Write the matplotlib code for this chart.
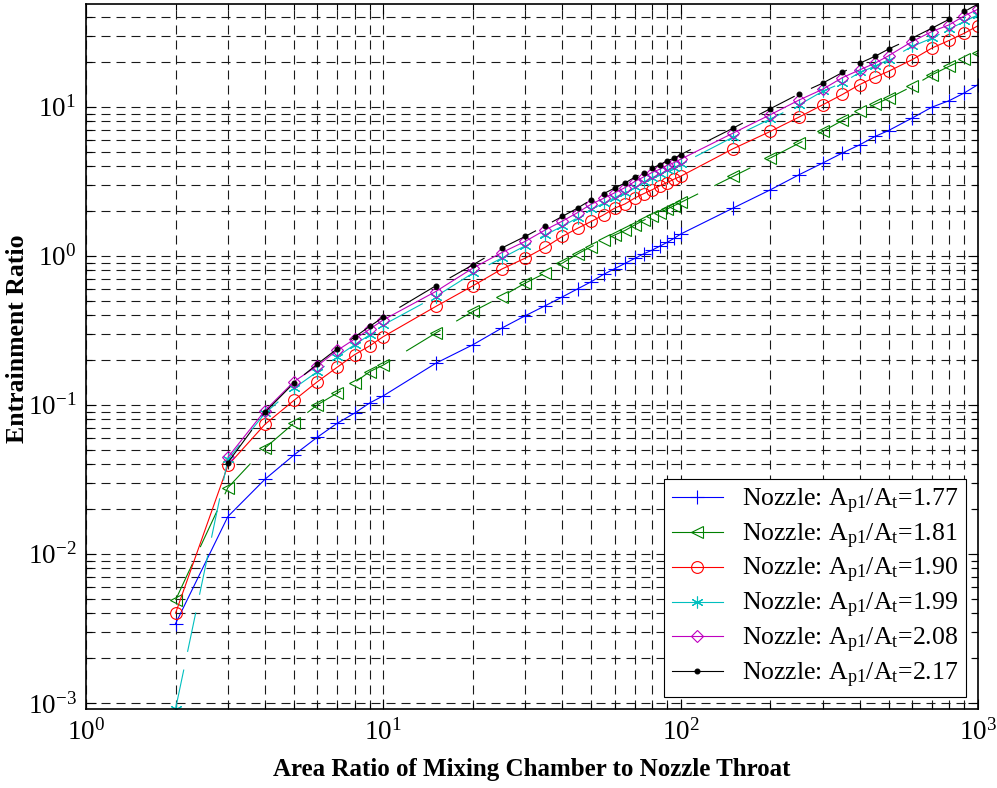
import numpy as np
import matplotlib
matplotlib.use("Agg")
import matplotlib.pyplot as plt
from matplotlib.ticker import LogLocator, NullFormatter

plt.rcParams["font.family"] = ["Liberation Serif", "DejaVu Serif"]
plt.rcParams["mathtext.fontset"] = "custom"
plt.rcParams["mathtext.rm"] = "Liberation Serif"
plt.rcParams["mathtext.it"] = "Liberation Serif:italic"
plt.rcParams["mathtext.bf"] = "Liberation Serif:bold"
plt.rcParams["lines.scale_dashes"] = False

# area ratio of mixing chamber to nozzle throat
area_ratio = [2, 3, 4, 5, 6, 7, 8, 9, 10,
              15, 20, 25, 30, 35, 40, 45, 50, 55, 60, 65, 70, 75, 80, 85, 90, 95, 100,
              150, 200, 250, 300, 350, 400, 450, 500, 600, 700, 800, 900, 1000]

# entrainment ratio for each nozzle area ratio Ap1/At
er_177 = [0.0034, 0.0178, 0.0317, 0.046, 0.0607, 0.0753, 0.088, 0.103, 0.115,
          0.19, 0.253, 0.327, 0.396, 0.462, 0.53, 0.60, 0.67, 0.75, 0.82, 0.89, 0.96, 1.03, 1.09, 1.16, 1.23, 1.31, 1.40,
          2.09, 2.77, 3.50, 4.19, 4.9, 5.56, 6.32, 6.93, 8.40, 9.95, 11.0, 12.4, 14.1]
er_181 = [0.0049, 0.0278, 0.0513, 0.0753, 0.100, 0.120, 0.141, 0.167, 0.185,
          0.303, 0.423, 0.533, 0.656, 0.765, 0.893, 1.03, 1.15, 1.27, 1.38, 1.48, 1.61, 1.73, 1.84, 1.94, 2.06, 2.17, 2.28,
          3.41, 4.53, 5.70, 6.83, 8.1, 9.3, 10.4, 11.4, 13.7, 16.4, 18.7, 20.9, 22.9]
er_190 = [0.0040, 0.0392, 0.0741, 0.107, 0.143, 0.179, 0.217, 0.249, 0.287,
          0.457, 0.629, 0.814, 0.965, 1.14, 1.35, 1.53, 1.70, 1.88, 2.09, 2.23, 2.44, 2.61, 2.77, 2.95, 3.10, 3.27, 3.42,
          5.23, 6.83, 8.53, 10.3, 12.1, 14.1, 15.8, 17.3, 20.7, 24.8, 27.9, 31.2, 35.0]
er_199 = [0.00091, 0.043, 0.088, 0.129, 0.167, 0.211, 0.253, 0.295, 0.344,
          0.533, 0.765, 0.965, 1.167, 1.38, 1.58, 1.80, 2.05, 2.25, 2.46, 2.65, 2.91, 3.13, 3.35, 3.52, 3.75, 3.91, 4.12,
          6.26, 8.27, 10.3, 12.7, 14.5, 17.0, 18.7, 20.7, 25.4, 28.9, 33.2, 37.4, 41.4]
er_208 = [np.nan, 0.0445, 0.0916, 0.143, 0.183, 0.232, 0.276, 0.322, 0.372,
          0.576, 0.827, 1.05, 1.25, 1.49, 1.71, 1.95, 2.22, 2.43, 2.65, 2.87, 3.15, 3.38, 3.62, 3.81, 4.05, 4.22, 4.45,
          6.66, 8.84, 11.1, 13.1, 15.7, 17.7, 19.6, 22.0, 27.4, 32.0, 35.5, 40.8, 45.2]
er_217 = [np.nan, 0.041, 0.0893, 0.140, 0.188, 0.238, 0.285, 0.336, 0.388,
          0.629, 0.87, 1.127, 1.35, 1.59, 1.84, 2.09, 2.38, 2.61, 2.85, 3.08, 3.37, 3.62, 3.88, 4.08, 4.34, 4.52, 4.78,
          7.19, 9.7, 12.2, 14.4, 17.0, 19.6, 21.8, 24.4, 28.9, 33.7, 38.7, 43.6, 49.0]

nozzle_labels = ["1.77", "1.81", "1.90", "1.99", "2.08", "2.17"]

long_dash = (0, (29, 13))
asterisk = (6, 2, 0)
# values, colour, marker, marker size, line style, marker face
series = [
    (er_177, "b", "+", 10, "-", "b"),
    (er_181, "#008000", "<", 8.5, long_dash, "none"),
    (er_190, "r", "o", 8.5, "-", "none"),
    (er_199, "c", asterisk, 8.5, long_dash, "c"),
    (er_208, "m", "D", 6.5, "-", "none"),
    (er_217, "k", ".", 7, long_dash, "k"),
]

fig = plt.figure(figsize=(9.97, 7.88), dpi=100)
ax = fig.add_axes([0.0863, 0.1003, 0.8947, 0.8947])

for (vals, col, mk, ms, ls, fc), lab in zip(series, nozzle_labels):
    ax.plot(area_ratio, vals, color=col, marker=mk, linestyle=ls, lw=0.8,
            markersize=ms, markerfacecolor=fc, markeredgecolor=col, markeredgewidth=0.8,
            label=r"Nozzle: A$_{\rm p1}$/A$_{\rm t}$=" + lab)

ax.set_xscale("log")
ax.set_yscale("log")
ax.set_xlim(1, 1000)
all_vals = np.array([er_177, er_181, er_190, er_199, er_208, er_217], dtype=float)
ax.set_ylim(np.nanmin(all_vals), np.nanmax(all_vals))

ax.xaxis.set_major_locator(LogLocator(base=10, numticks=10))
ax.yaxis.set_major_locator(LogLocator(base=10, numticks=10))
ax.xaxis.set_minor_locator(LogLocator(base=10, subs=np.arange(2, 10), numticks=20))
ax.yaxis.set_minor_locator(LogLocator(base=10, subs=np.arange(2, 10), numticks=20))
ax.xaxis.set_minor_formatter(NullFormatter())
ax.yaxis.set_minor_formatter(NullFormatter())

grid_dash = (0, (6.5, 4.3))
ax.set_axisbelow(True)
ax.grid(True, which="both", color="0.1", lw=0.8, linestyle=grid_dash)

ax.tick_params(which="both", direction="in", top=True, right=True, labelsize=19.5, width=0.8)
ax.tick_params(which="major", length=7, pad=7)
ax.tick_params(which="minor", length=4)
for sp in ax.spines.values():
    sp.set_linewidth(1.2)

ax.set_xlabel("Area Ratio of Mixing Chamber to Nozzle Throat", fontsize=18, fontweight="bold", labelpad=9)
ax.set_ylabel("Entrainment Ratio", fontsize=18.5, fontweight="bold")
ax.yaxis.set_label_coords(-0.064, 0.525)

leg = ax.legend(loc="lower right", fontsize=18.5, fancybox=False, framealpha=1, edgecolor="k",
                handlelength=2.0, handletextpad=0.75, labelspacing=0.22, borderpad=0.3,
                borderaxespad=0.45)
leg.get_frame().set_linewidth(0.8)
for ln in leg.get_lines():
    ln.set_linestyle("-")

fig.savefig("out.png", dpi=100)
